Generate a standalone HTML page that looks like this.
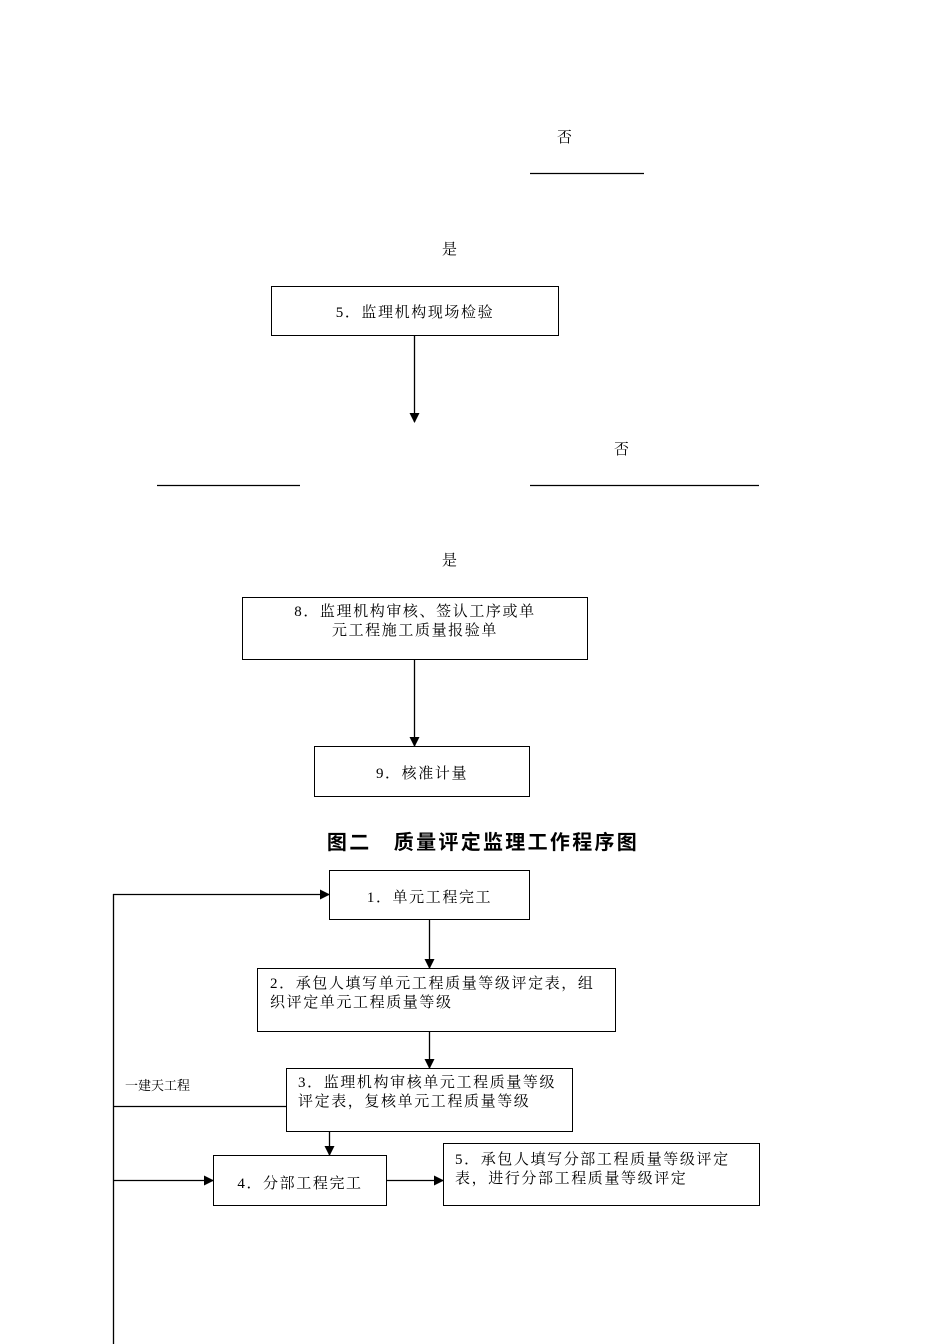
<!DOCTYPE html>
<html><head><meta charset="utf-8"><style>
body{margin:0;width:950px;height:1344px;background:#fff;position:relative;font-family:"Liberation Serif","Noto Serif CJK SC","Noto Sans CJK SC",serif;color:#000;overflow:hidden}
.t{position:absolute;font-size:15px;line-height:19px;white-space:nowrap;letter-spacing:1.6px}
.b{position:absolute;border:1px solid #000;box-sizing:border-box}
svg{position:absolute;left:0;top:0}
</style></head><body>
<svg width="950" height="1344">
<defs><marker id="a" markerWidth="10" markerHeight="10" refX="9" refY="5" orient="auto" markerUnits="userSpaceOnUse"><path d="M0,0 L10,5 L0,10 z" fill="#000"/></marker></defs>
<g stroke="#000" stroke-width="1.3" fill="none">
<line x1="530" y1="173.5" x2="644" y2="173.5"/>
<line x1="414.5" y1="335" x2="414.5" y2="422" marker-end="url(#a)"/>
<line x1="157" y1="485.5" x2="300" y2="485.5"/>
<line x1="530" y1="485.5" x2="759" y2="485.5"/>
<line x1="414.5" y1="659" x2="414.5" y2="746" marker-end="url(#a)"/>
<line x1="429.5" y1="919" x2="429.5" y2="968" marker-end="url(#a)"/>
<line x1="429.5" y1="1031" x2="429.5" y2="1068" marker-end="url(#a)"/>
<line x1="329.5" y1="1131" x2="329.5" y2="1155" marker-end="url(#a)"/>
<line x1="386" y1="1180.5" x2="443" y2="1180.5" marker-end="url(#a)"/>
<line x1="113.5" y1="894" x2="113.5" y2="1344"/>
<line x1="113" y1="894.5" x2="329" y2="894.5" marker-end="url(#a)"/>
<line x1="113" y1="1106.5" x2="286" y2="1106.5"/>
<line x1="113" y1="1180.5" x2="213" y2="1180.5" marker-end="url(#a)"/>
</g></svg>
<div class="t" style="left:557px;top:129px">否</div>
<div class="t" style="left:442px;top:241px">是</div>
<div class="b" style="left:271px;top:286px;width:288px;height:50px"></div>
<div class="t" style="left:271px;width:288px;text-align:center;top:304px">5．监理机构现场检验</div>
<div class="t" style="left:614px;top:441px">否</div>
<div class="t" style="left:442px;top:552px">是</div>
<div class="b" style="left:242px;top:597px;width:346px;height:63px"></div>
<div class="t" style="left:242px;width:346px;text-align:center;top:603px">8．监理机构审核、签认工序或单<br>元工程施工质量报验单</div>
<div class="b" style="left:314px;top:746px;width:216px;height:51px"></div>
<div class="t" style="left:314px;width:216px;text-align:center;top:765px">9．核准计量</div>
<div class="t" style="left:0;width:966px;text-align:center;top:830px;font-size:20px;line-height:26px;font-weight:bold;letter-spacing:2.3px;font-family:'Liberation Sans','Noto Sans CJK SC',sans-serif">图二　质量评定监理工作程序图</div>
<div class="b" style="left:329px;top:870px;width:201px;height:50px"></div>
<div class="t" style="left:329px;width:201px;text-align:center;top:889px">1．单元工程完工</div>
<div class="b" style="left:257px;top:968px;width:359px;height:64px"></div>
<div class="t" style="left:270px;top:975px">2．承包人填写单元工程质量等级评定表，组<br>织评定单元工程质量等级</div>
<div class="b" style="left:286px;top:1068px;width:287px;height:64px"></div>
<div class="t" style="left:298px;top:1074px">3．监理机构审核单元工程质量等级<br>评定表，复核单元工程质量等级</div>
<div class="t" style="left:125px;top:1076px;font-size:13px;letter-spacing:0">一建天工程</div>
<div class="b" style="left:213px;top:1155px;width:174px;height:51px"></div>
<div class="t" style="left:213px;width:174px;text-align:center;top:1175px">4．分部工程完工</div>
<div class="b" style="left:443px;top:1143px;width:317px;height:63px"></div>
<div class="t" style="left:455px;top:1151px">5．承包人填写分部工程质量等级评定<br>表，进行分部工程质量等级评定</div>
</body></html>
